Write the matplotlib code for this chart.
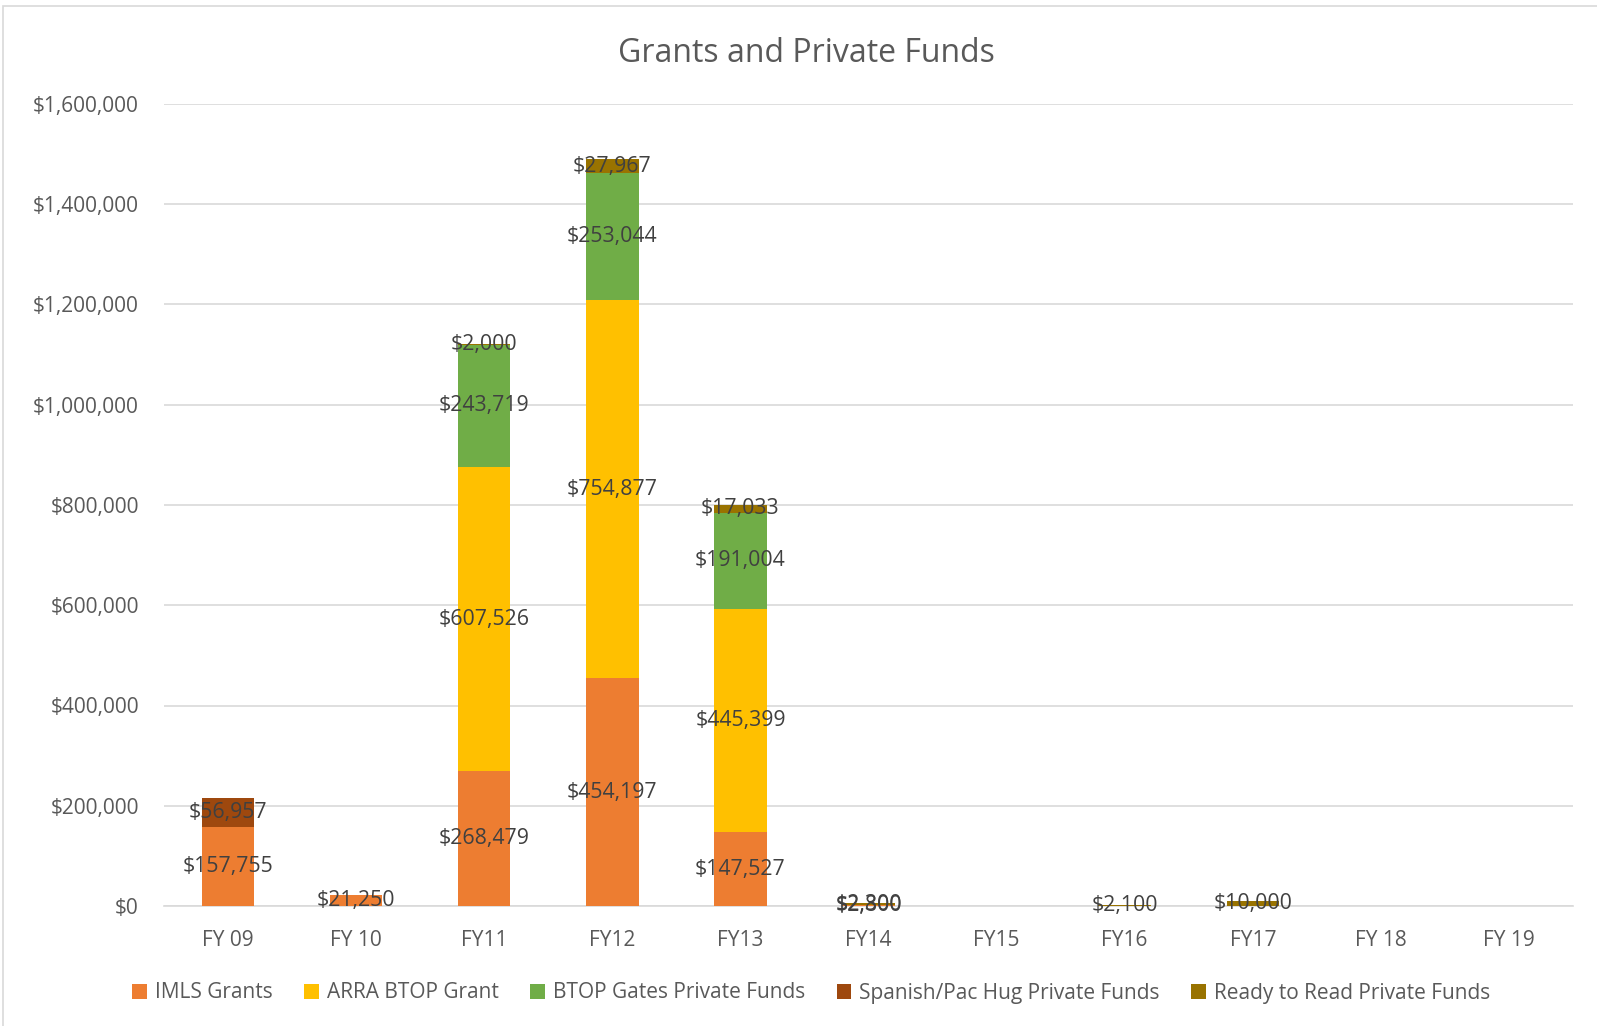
import matplotlib.pyplot as plt
from matplotlib.patches import Rectangle
from matplotlib.ticker import FuncFormatter
import numpy as np

plt.rcParams['font.family'] = ['Open Sans', 'DejaVu Sans']

years = ["FY 09", "FY 10", "FY11", "FY12", "FY13", "FY14", "FY15", "FY16", "FY17", "FY 18", "FY 19"]
imls = [157755, 21250, 268479, 454197, 147527, 2800, 0, 0, 0, 0, 0]
arra = [0, 0, 607526, 754877, 445399, 0, 0, 0, 0, 0, 0]
gates = [0, 0, 243719, 253044, 191004, 0, 0, 0, 0, 0, 0]
spanish = [56957, 0, 0, 0, 0, 0, 0, 0, 0, 0, 0]
ready = [0, 0, 2000, 27967, 17033, 2300, 0, 2100, 10000, 0, 0]

series = [
    ("IMLS Grants", imls, "#ED7D31"),
    ("ARRA BTOP Grant", arra, "#FFC000"),
    ("BTOP Gates Private Funds", gates, "#70AD47"),
    ("Spanish/Pac Hug Private Funds", spanish, "#9E480E"),
    ("Ready to Read Private Funds", ready, "#997300"),
]

fig = plt.figure(figsize=(15.97, 10.26), dpi=100)
ax = fig.add_axes([164 / 1597, 1 - 906 / 1026, (1573 - 164) / 1597, (906 - 104) / 1026])

x = np.arange(len(years))
bottom = np.zeros(len(years))
for name, vals, col in series:
    vals = np.array(vals, dtype=float)
    ax.bar(x, vals, 0.41, bottom=bottom, color=col, label=name, zorder=3)
    for xi, v, b in zip(x, vals, bottom):
        if v > 0:
            ax.text(xi, b + v / 2, f"${v:,.0f}", ha="center", va="center",
                    fontsize=15.3, color="#404040", zorder=4)
    bottom += vals

ax.set_xlim(-0.5, 10.5)
ax.set_ylim(0, 1600000)
ax.set_yticks(np.arange(0, 1600001, 200000))
ax.yaxis.set_major_formatter(FuncFormatter(lambda v, p: f"${v:,.0f}"))
ax.set_xticks(x)
ax.set_xticklabels(years)
ax.tick_params(axis="both", length=0, labelsize=15, labelcolor="#595959")
ax.tick_params(axis="y", pad=18)
ax.tick_params(axis="x", pad=17)
ax.grid(axis="y", color="#d9d9d9", linewidth=1.2, zorder=0)
for s in ["top", "right", "left"]:
    ax.spines[s].set_visible(False)
ax.spines["bottom"].set_color("#d9d9d9")
ax.spines["bottom"].set_linewidth(1.2)

fig.text(0.505, 1 - 53 / 1026, "Grants and Private Funds", ha="center", va="center",
         fontsize=23, color="#595959")

fig.legend(loc="center", bbox_to_anchor=(0.508, 1 - 993 / 1026), ncol=5, frameon=False,
           fontsize=15, handlelength=0.7, handleheight=0.7, columnspacing=1.5,
           handletextpad=0.4, labelcolor="#595959")

fig.patches.append(Rectangle((3 / 1597, -0.01), 1.1, 1 - 6 / 1026 + 0.01, transform=fig.transFigure,
                             fill=False, edgecolor="#d9d9d9", linewidth=1.2))

fig.savefig("out.png", dpi=100)
